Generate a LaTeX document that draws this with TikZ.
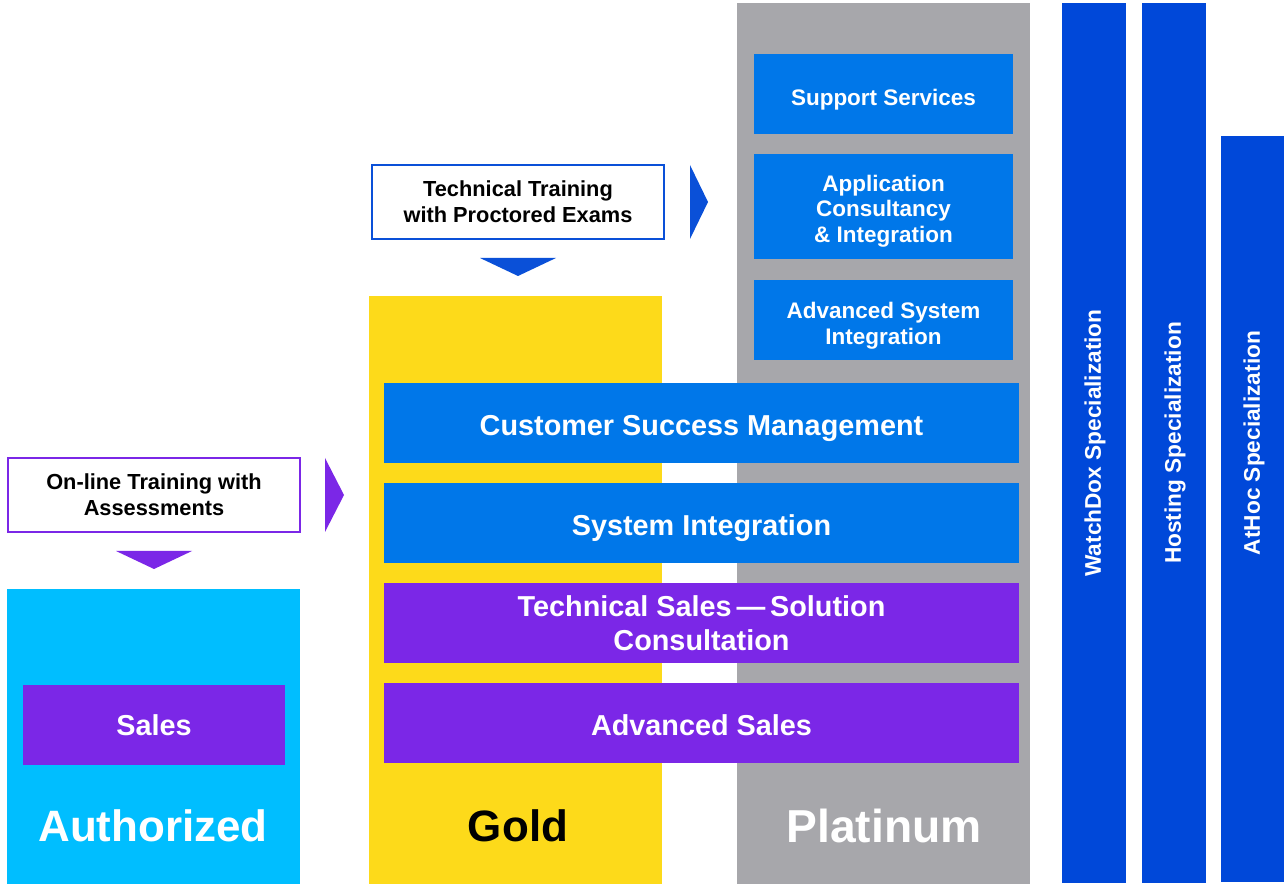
\documentclass[tikz,border=0pt]{standalone}
\usepackage{fontspec}
\setmainfont{Liberation Sans}
\usetikzlibrary{calc}
\definecolor{authcyan}{RGB}{0,190,255}
\definecolor{goldyel}{RGB}{253,218,26}
\definecolor{platgray}{RGB}{167,167,171}
\definecolor{tierblue}{RGB}{0,119,233}
\definecolor{tierpurple}{RGB}{123,39,231}
\definecolor{specblue}{RGB}{0,72,217}
\definecolor{trainblue}{RGB}{10,80,216}
\begin{document}
\begin{tikzpicture}[x=0.02cm,y=-0.02cm,
  sz/.style 2 args={minimum width=#1*0.02cm,minimum height=#2*0.02cm},
  area/.style={anchor=north west,inner sep=0pt,outer sep=0pt,rectangle},
  column/.style={area},
  tier/.style={area,fill=tierblue,text=white,font=\bfseries\fontsize{12.8}{14.7}\selectfont,align=center},
  widetier/.style={tier,font=\bfseries\fontsize{16.4}{19.3}\selectfont},
  % fixed text box so the lettering sits a little below the middle
  lowtext/.style={text height=#1,text depth=0pt},
  training/.style={area,fill=white,line width=1.6pt,text=black,font=\bfseries\fontsize{12.4}{14.9}\selectfont,align=center},
  spec/.style={area,fill=specblue},
  spectext/.style={rotate=90,text=white,font=\bfseries\fontsize{12.9}{15}\selectfont,inner sep=0pt},
  level/.style={font=\bfseries\fontsize{25}{30}\selectfont,inner sep=0pt}
]
\path[use as bounding box,fill=white] (0,0) rectangle (1284,884);

% tier columns
\node[column,fill=authcyan,sz={293}{295}] (authcol) at (7,589) {};
\node[column,fill=goldyel,sz={293}{588}] (goldcol) at (369,296) {};
\node[column,fill=platgray,sz={293}{881}] (platcol) at (737,3) {};

% specialization bars
\node[spec,sz={64}{880}] (watchbar) at (1062,3) {};
\node[spec,sz={64}{880}] (hostbar) at (1142,3) {};
\node[spec,sz={63}{746}] (athocbar) at (1221,136) {};
\node[spectext] (watchtxt) at (1095,443) {WatchDox Specialization};
\node[spectext] (hosttxt) at (1175,443) {Hosting Specialization};
\node[spectext] (athoctxt) at (1254,443) {AtHoc Specialization};

% platinum-only services
\node[tier,lowtext=13.1pt,sz={259}{80}] (support) at (754,54) {Support Services};
\node[tier,lowtext=41.2pt,sz={259}{105}] (appcons) at (754,154) {Application\\Consultancy\\\& Integration};
\node[tier,lowtext=27.9pt,sz={259}{80}] (advsys) at (754,280) {Advanced System\\Integration};

% shared gold / platinum services
\node[widetier,lowtext=14.6pt,sz={635}{80}] (csm) at (384,383) {Customer Success Management};
\node[widetier,lowtext=14.6pt,sz={635}{80}] (sysint) at (384,483) {System Integration};
\node[widetier,fill=tierpurple,sz={635}{80}] (techsales) at (384,583) {Technical Sales\,---\,Solution\\Consultation};
\node[widetier,lowtext=14.6pt,fill=tierpurple,sz={635}{80}] (advsales) at (384,683) {Advanced Sales};

% authorized service
\node[widetier,fill=tierpurple,sz={262}{80}] (sales) at (23,685) {Sales};

% tier names
\node[level,text=white] (authlbl) at (153,826) {Authorized};
\node[level,text=black] (goldlbl) at (518,826) {Gold};
\node[level,text=white,font=\bfseries\fontsize{26.3}{30}\selectfont] (platlbl) at (884,826) {Platinum};

% training requirements
\node[training,draw=trainblue,sz={292}{74}] (techtrain) at (372,165) {Technical Training\\with Proctored Exams};
\node[training,draw=tierpurple,sz={292}{74}] (onltrain) at (8,458) {On-line Training with\\Assessments};

% pointers from the training boxes
\fill[trainblue] ($(techtrain.north east)+(26,0)$) -- ($(techtrain.east)+(44,0)$) -- ($(techtrain.south east)+(26,0)$) -- cycle;
\fill[trainblue] ($(techtrain.south)+(-38,19)$) -- ($(techtrain.south)+(38,19)$) -- ($(techtrain.south)+(0,37)$) -- cycle;
\fill[tierpurple] ($(onltrain.north east)+(25,0)$) -- ($(onltrain.east)+(44,0)$) -- ($(onltrain.south east)+(25,0)$) -- cycle;
\fill[tierpurple] ($(onltrain.south)+(-38,19)$) -- ($(onltrain.south)+(38,19)$) -- ($(onltrain.south)+(0,37)$) -- cycle;
\end{tikzpicture}
\end{document}
